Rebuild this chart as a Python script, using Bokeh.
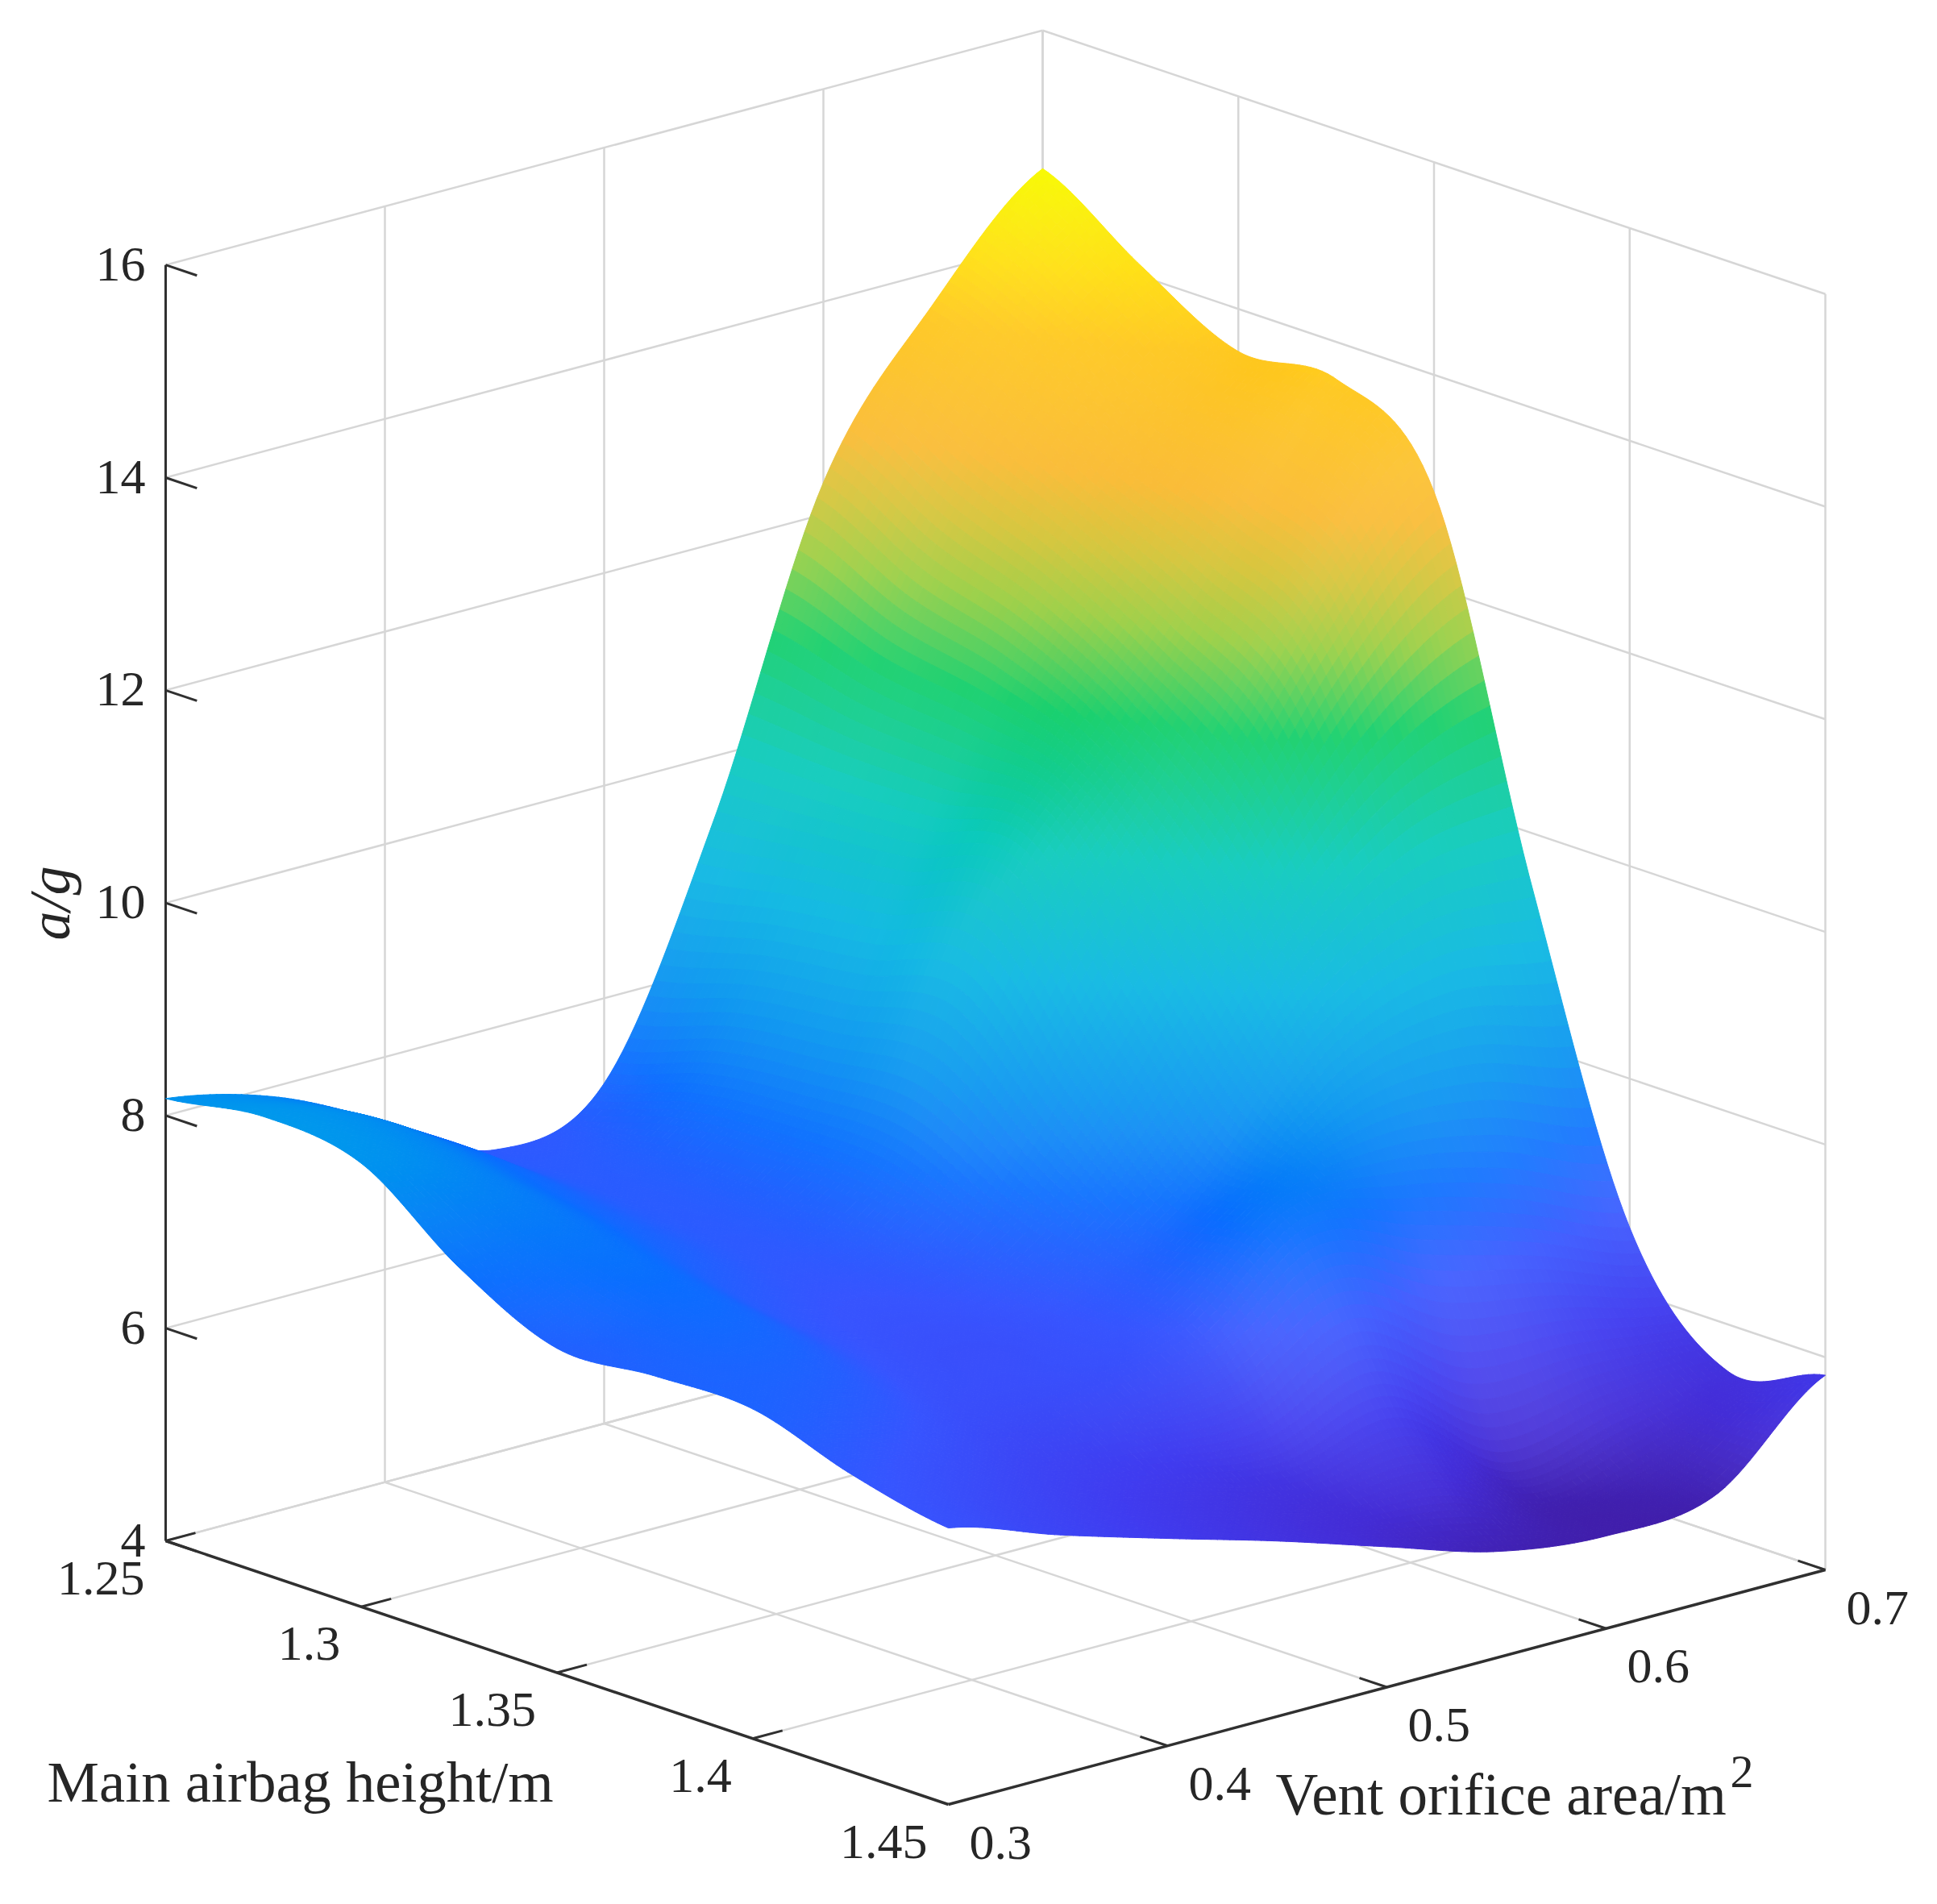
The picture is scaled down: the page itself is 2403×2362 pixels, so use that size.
import numpy as np
from bokeh.plotting import figure
from bokeh.models import Range1d, ColumnDataSource
from bokeh.core.properties import value
from bokeh.embed import file_html
from bokeh.resources import INLINE

heights = [1.25, 1.275, 1.30, 1.325, 1.35, 1.375, 1.40, 1.425, 1.45]
areas = [0.30, 0.35, 0.40, 0.45, 0.50, 0.55, 0.60, 0.65, 0.70]
# rows: area, columns: height
accel = [
    [8.16, 8.30, 8.17, 7.50, 7.05, 7.10, 7.10, 6.80, 6.60],
    [7.90, 8.00, 7.85, 7.60, 7.40, 7.20, 6.90, 6.50, 6.26],
    [7.40, 7.40, 7.25, 7.10, 6.85, 6.70, 6.50, 6.15, 5.95],
    [6.85, 6.90, 6.90, 6.85, 6.70, 6.55, 6.50, 5.90, 5.65],
    [7.20, 7.50, 7.60, 7.60, 7.20, 6.90, 6.70, 5.70, 5.32],
    [9.40, 9.50, 9.60, 9.80, 8.60, 7.60, 7.50, 5.90, 5.00],
    [12.3, 11.8, 11.5, 11.0, 10.2, 8.90, 7.30, 5.20, 4.87],
    [13.7, 13.3, 12.8, 12.4, 11.8, 9.50, 7.00, 5.40, 4.98],
    [14.7, 14.1, 13.6, 13.65, 12.9, 9.50, 6.60, 5.56, 5.83],
]
height_ticks = [1.25, 1.30, 1.35, 1.40, 1.45]
height_labels = ["1.25", "1.3", "1.35", "1.4", "1.45"]
area_ticks = [0.3, 0.4, 0.5, 0.6, 0.7]
area_labels = ["0.3", "0.4", "0.5", "0.6", "0.7"]
accel_ticks = [4, 6, 8, 10, 12, 14, 16]
accel_labels = ["4", "6", "8", "10", "12", "14", "16"]
color_levels = [4.85, 5.4, 6.0, 6.7, 7.4, 8.1, 9.0, 10.0, 11.0, 11.7, 12.2, 12.7, 13.6, 14.1, 14.7]
color_rgb = [(64, 30, 170), (68, 45, 215), (64, 60, 240), (55, 85, 255), (10, 110, 255), (0, 145, 240),
             (0, 180, 225), (0, 200, 185), (10, 205, 100), (150, 205, 60), (210, 195, 50), (250, 185, 45),
             (255, 200, 30), (255, 225, 15), (248, 250, 0)]

AX, AY = 1088.0, -291.0
HX, HY = 971.0, 327.0
ZY = 131.9
LX, LY = 205.0, 1911.0

def proj(area, height, z):
    a = (np.asarray(area, float) - 0.3) / 0.4
    h = (np.asarray(height, float) - 1.25) / 0.2
    return LX + AX * a + HX * h, LY + AY * a + HY * h - ZY * (np.asarray(z, float) - 4.0)

def catmull(values, steps):
    v = np.asarray(values, float)
    n = v.shape[0]
    pos = np.linspace(0, n - 1, steps)
    i = np.clip(pos.astype(int), 0, n - 2)
    t = (pos - i)[(...,) + (None,) * (v.ndim - 1)]
    p0 = v[np.clip(i - 1, 0, n - 1)]
    p1 = v[i]
    p2 = v[i + 1]
    p3 = v[np.clip(i + 2, 0, n - 1)]
    return 0.5 * (2 * p1 + (p2 - p0) * t + (2 * p0 - 5 * p1 + 4 * p2 - p3) * t * t + (3 * p1 - p0 - 3 * p2 + p3) * t ** 3)

N = 141
Z = catmull(np.swapaxes(catmull(np.asarray(accel), N), 0, 1), N).T
A = np.linspace(areas[0], areas[-1], N)
H = np.linspace(heights[0], heights[-1], N)
AA, HH = np.meshgrid(A, H, indexing="ij")
PX, PY = proj(AA, HH, Z)

rgb = np.array(color_rgb, float)
flat_area = abs(AX * HY - AY * HX) / (N - 1) ** 2
xs, ys, cols, depth = [], [], [], []
for i in range(N - 1):
    for j in range(N - 1):
        qx = [PX[i, j], PX[i + 1, j], PX[i + 1, j + 1], PX[i, j + 1]]
        qy = [PY[i, j], PY[i + 1, j], PY[i + 1, j + 1], PY[i, j + 1]]
        xs.append(qx)
        ys.append(qy)
        zm = Z[i:i + 2, j:j + 2].mean()
        c = np.array([np.interp(zm, color_levels, rgb[:, k]) for k in range(3)])
        cell = 0.5 * abs((qx[2] - qx[0]) * (qy[3] - qy[1]) - (qx[3] - qx[1]) * (qy[2] - qy[0]))
        w = 0.10 * np.clip((cell / flat_area - 1.8) / 3.0, 0, 1)
        c = c * (1 - w) + 255 * w
        cols.append("#%02x%02x%02x" % tuple(int(v) for v in c))
        depth.append(j - i)
order = np.argsort(depth, kind="stable")
src = ColumnDataSource(dict(xs=[xs[k] for k in order], ys=[ys[k] for k in order], c=[cols[k] for k in order]))

p = figure(frame_width=2387, frame_height=2346, x_range=Range1d(0, 2387), y_range=Range1d(2346, 0),
           toolbar_location=None, output_backend="svg", min_border=0,
           x_axis_type=None, y_axis_type=None)
p.grid.visible = False
p.outline_line_color = None
p.background_fill_color = "white"

GRID = "#d6d6d6"
a0, a1 = area_ticks[0], area_ticks[-1]
h0, h1 = height_ticks[0], height_ticks[-1]
z0, z1 = accel_ticks[0], accel_ticks[-1]

def seg(a_, b_, color, width):
    x, y = proj([a_[0], b_[0]], [a_[1], b_[1]], [a_[2], b_[2]])
    p.line(x, y, line_color=color, line_width=width)

for a in area_ticks:
    seg((a, h0, z0), (a, h1, z0), GRID, 2.5)
    seg((a, h0, z0), (a, h0, z1), GRID, 2.5)
for h in height_ticks:
    seg((a0, h, z0), (a1, h, z0), GRID, 2.5)
    seg((a1, h, z0), (a1, h, z1), GRID, 2.5)
for z in accel_ticks:
    seg((a0, h0, z), (a1, h0, z), GRID, 2.5)
    seg((a1, h0, z), (a1, h1, z), GRID, 2.5)

AXC = "#303030"
seg((a0, h0, z0), (a0, h0, z1), AXC, 3)
seg((a0, h0, z0), (a0, h1, z0), AXC, 3.5)
seg((a0, h1, z0), (a1, h1, z0), AXC, 3.5)
for z in accel_ticks:
    seg((a0, h0, z), (a0, h0 + 0.008, z), AXC, 3)
for h in height_ticks[:-1]:
    seg((a0, h, z0), (a0 + 0.0136, h, z0), AXC, 3)
for a in area_ticks[1:]:
    seg((a, h1, z0), (a, h1 - 0.007, z0), AXC, 3)

p.patches("xs", "ys", source=src, fill_color="c", line_color="c", line_width=1)

TXT = "#262626"
FONT = value("Liberation Serif")
for z, s in zip(accel_ticks, accel_labels):
    _, y = proj(a0, h0, z)
    p.text([180], [y - 1], text=[s], text_font=FONT, text_font_size="62px", text_color=TXT,
           text_align="right", text_baseline="middle")
for h, s in zip(height_ticks, height_labels):
    x, y = proj(a0, h, z0)
    p.text([x - 26], [y + 46], text=[s], text_font=FONT, text_font_size="62px", text_color=TXT,
           text_align="right", text_baseline="middle")
for a, s in zip(area_ticks, area_labels):
    x, y = proj(a, h1, z0)
    p.text([x + 26], [y + 47], text=[s], text_font=FONT, text_font_size="62px", text_color=TXT,
           text_align="left", text_baseline="middle")
p.text([58], [2210], text=["Main airbag height/m"], text_font=FONT, text_font_size="72.5px", text_color=TXT,
       text_align="left", text_baseline="middle")
p.text([1582], [2226], text=["Vent orifice area/m"], text_font=FONT, text_font_size="73px", text_color=TXT,
       text_align="left", text_baseline="middle")
p.text([2146], [2197], text=["2"], text_font=FONT, text_font_size="58px", text_color=TXT,
       text_align="left", text_baseline="middle")
p.text([61], [1120], text=["a/g"], text_font=FONT, text_font_size="72px", text_font_style="italic", text_color=TXT,
       text_align="center", text_baseline="middle", angle=np.pi / 2)

open("out.html", "w").write(file_html(p, INLINE))
